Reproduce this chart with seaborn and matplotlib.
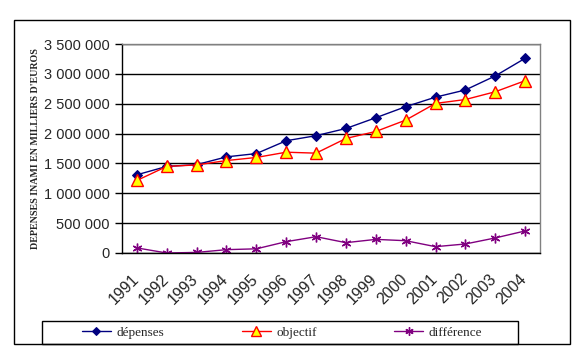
import seaborn as sns
import matplotlib.pyplot as plt
import pandas as pd
from matplotlib.patches import Rectangle

# Data
years = ["1991", "1992", "1993", "1994", "1995", "1996", "1997",
         "1998", "1999", "2000", "2001", "2002", "2003", "2004"]
depenses = [1310000, 1450000, 1480000, 1610000, 1665000, 1880000, 1965000,
            2085000, 2265000, 2450000, 2610000, 2730000, 2965000, 3260000]
objectif = [1215000, 1450000, 1475000, 1548000, 1600000, 1688000, 1672000,
            1918000, 2035000, 2225000, 2505000, 2570000, 2700000, 2885000]
difference = [85000, 0, 10000, 56000, 70000, 190000, 273000,
              173000, 228000, 206000, 106000, 151000, 252000, 369000]

df = pd.DataFrame({"idx": range(len(years)), "year": years,
                   "dépenses": depenses, "objectif": objectif,
                   "différence": difference})

sns.set_style("white")
plt.rcParams["font.family"] = ["Liberation Sans", "DejaVu Sans"]

W, H = 582, 358
fig = plt.figure(figsize=(W / 100, H / 100), dpi=100)
ax = fig.add_axes([122 / W, (H - 253) / H, 418 / W, 209 / H])

sns.lineplot(data=df, x="idx", y="dépenses", ax=ax, color="#000080",
             marker="D", markersize=5, markeredgecolor="#000080",
             linewidth=1, label="dépenses")
sns.lineplot(data=df, x="idx", y="objectif", ax=ax, color="#ff0000",
             marker="^", markersize=8, markerfacecolor="#ffff00",
             markeredgecolor="#ff0000", markeredgewidth=1,
             linewidth=1, label="objectif")
sns.lineplot(data=df, x="idx", y="différence", ax=ax, color="#800080",
             marker=(6, 2, 0), markersize=7, markeredgecolor="#800080",
             markeredgewidth=1, linewidth=1, label="différence")

ax.set_xlim(-0.5, len(years) - 0.5)
ax.set_ylim(0, 3500000)
yt = list(range(0, 3500001, 500000))
ax.set_yticks(yt)
ax.set_yticklabels([f"{v:,}".replace(",", " ") for v in yt], fontsize=10.5)
ax.yaxis.grid(True, color="black", linewidth=1)
ax.set_axisbelow(True)

# category boundaries as ticks, labels at category centres
ax.set_xticks([i - 0.5 for i in range(len(years) + 1)])
ax.set_xticklabels([])
ax.set_xticks([i - 0.2 for i in range(len(years))], minor=True)
ax.set_xticklabels(years, minor=True, rotation=45, ha="right", va="top",
                   rotation_mode="anchor", fontsize=11.5)
ax.tick_params(axis="x", which="minor", length=0, pad=13)
ax.tick_params(axis="x", which="major", direction="out", length=5,
               width=1, color="black")
ax.tick_params(axis="y", direction="out", length=5, width=1,
               color="black", left=True, pad=4)

for s in ["left", "bottom"]:
    ax.spines[s].set_color("black")
    ax.spines[s].set_linewidth(1)
for s in ["top", "right"]:
    ax.spines[s].set_visible(True)
    ax.spines[s].set_color("#808080")
    ax.spines[s].set_linewidth(1)

ax.set_xlabel("")
ax.set_ylabel("DEPENSES INAMI EN MILLIERS D'EUROS", fontsize=7.2,
              fontweight="bold", family=["Liberation Serif", "DejaVu Serif"])
ax.yaxis.set_label_coords(-0.195, 0.5)

# outer chart frame and legend frame
fig.patches.append(Rectangle((14 / W, 14 / H), 556 / W, 324 / H,
                             transform=fig.transFigure, fill=False,
                             edgecolor="black", linewidth=1))
fig.patches.append(Rectangle((42 / W, 14 / H), 476 / W, 23 / H,
                             transform=fig.transFigure, fill=False,
                             edgecolor="black", linewidth=1))

handles, labels = ax.get_legend_handles_labels()
ax.get_legend().remove()
fig.legend(handles, labels, ncol=3, loc="center",
           bbox_to_anchor=(282 / W, 25.5 / H),
           prop={"family": ["Liberation Serif", "DejaVu Serif"], "size": 9.5},
           frameon=False, columnspacing=5.9, handlelength=2.2,
           handletextpad=0.4, markerscale=0.85)

plt.savefig("out.png", dpi=100)
